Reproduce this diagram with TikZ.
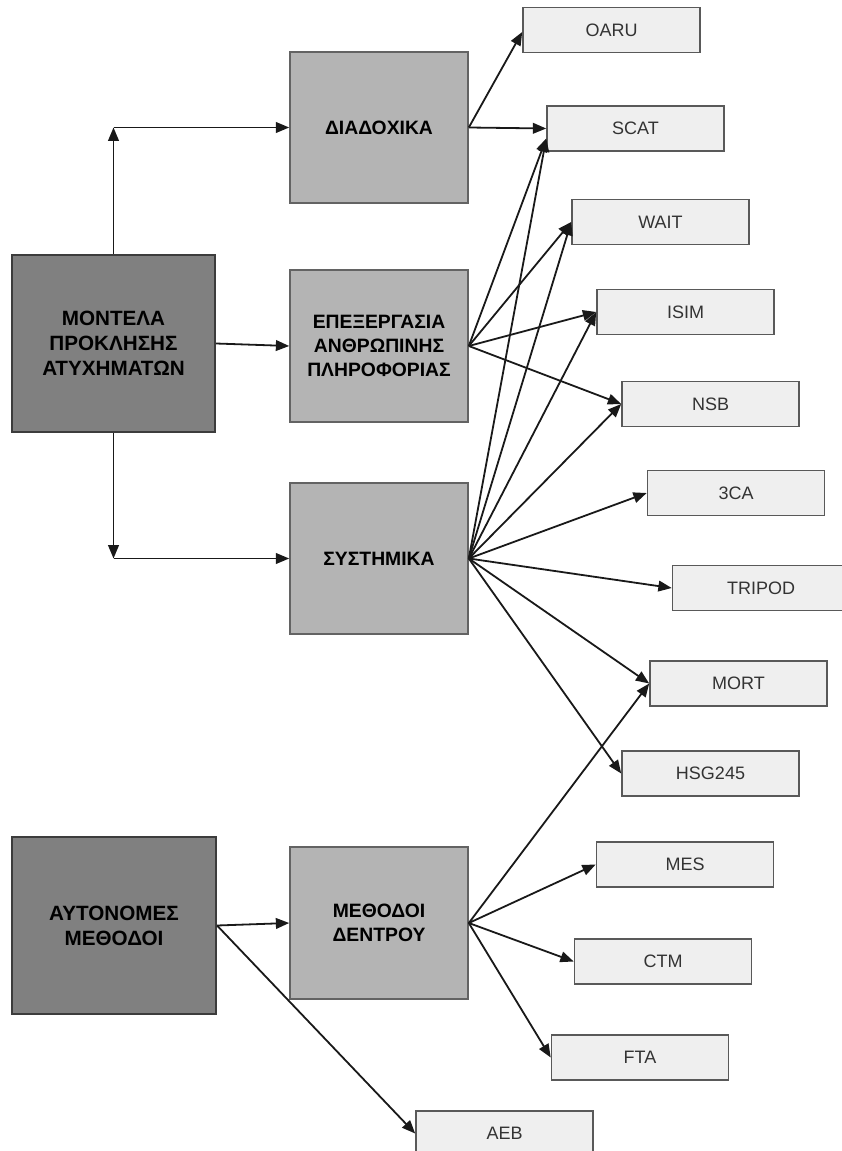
\documentclass[tikz,border=0pt]{standalone}
\usepackage{fontspec}
\setmainfont{Liberation Sans}
\usetikzlibrary{arrows.meta,calc}
\definecolor{darkbox}{HTML}{808080}
\definecolor{midbox}{HTML}{B4B4B4}
\definecolor{lightbox}{HTML}{EFEFEF}
\definecolor{smalltext}{HTML}{333333}
\definecolor{edgegray}{HTML}{3C3C3C}
\tikzset{
  bigbox/.style={draw=edgegray, line width=1.6pt, fill=darkbox, minimum width=203*0.75pt, minimum height=177*0.75pt, align=center, inner sep=0pt,
    font=\bfseries\fontsize{15.5}{18.75}\selectfont},
  midbox/.style={draw=edgegray!80, line width=1.2pt, fill=midbox, minimum width=178*0.75pt, minimum height=151*0.75pt, align=center, inner sep=0pt,
    font=\bfseries\fontsize{14.5}{18}\selectfont},
  smallbox/.style={draw=edgegray!85, line width=1.2pt, fill=lightbox, minimum width=177*0.75pt, minimum height=45*0.75pt, inner sep=0pt,
    text=smalltext, font=\fontsize{13.5}{16}\selectfont},
  conn/.style={line width=1.35pt, draw=black!90, -{Triangle[length=10pt,width=8pt]}},
}
\begin{document}
\begin{tikzpicture}[x=0.75pt,y=-0.75pt]
\useasboundingbox (0,0) rectangle (841,1151);
% big boxes
\node[bigbox] (M1) at (113.5,343.5) {ΜΟΝΤΕΛΑ\\ΠΡΟΚΛΗΣΗΣ\\ΑΤΥΧΗΜΑΤΩΝ};
\node[bigbox, minimum width=204*0.75pt] (M2) at (114,925.5) {ΑΥΤΟΝΟΜΕΣ\\ΜΕΘΟΔΟΙ};
% middle boxes
\node[midbox] (D) at (379,127.5) {ΔΙΑΔΟΧΙΚΑ};
\node[midbox, minimum height=152*0.75pt] (E) at (379,346) {ΕΠΕΞΕΡΓΑΣΙΑ\\ΑΝΘΡΩΠΙΝΗΣ\\ΠΛΗΡΟΦΟΡΙΑΣ};
\node[midbox] (S) at (379,558.5) {ΣΥΣΤΗΜΙΚΑ};
\node[midbox, minimum height=152*0.75pt] (T) at (379,923) {ΜΕΘΟΔΟΙ\\ΔΕΝΤΡΟΥ};
% small boxes
\node[smallbox] (OARU) at (611.5,30) {OARU};
\node[smallbox] (SCAT) at (635.5,128.5) {SCAT};
\node[smallbox] (WAIT) at (660.5,222) {WAIT};
\node[smallbox] (ISIM) at (685.5,312) {ISIM};
\node[smallbox] (NSB) at (710.5,404) {NSB};
\node[smallbox] (CCA) at (736,493) {3CA};
\node[smallbox] (TRIPOD) at (761,588) {TRIPOD};
\node[smallbox] (MORT) at (738.5,683.5) {MORT};
\node[smallbox] (HSG) at (710.5,773.5) {HSG245};
\node[smallbox] (MES) at (685,864.5) {MES};
\node[smallbox] (CTM) at (663,961.5) {CTM};
\node[smallbox] (FTA) at (640,1057.5) {FTA};
\node[smallbox] (AEB) at (504.5,1133.5) {AEB};
% elbow connectors from M1
\coordinate (c1) at (M1.north |- D.west);
\coordinate (c2) at (M1.south |- S.west);
\draw[conn] (M1.north) -- (c1);
\draw[conn] (c1) -- (D.west);
\draw[conn] (M1.south) -- (c2);
\draw[conn] (c2) -- (S.west);
\draw[conn] (M1.east) -- (E.west);
% from D
\draw[conn] (D.east) -- ($(OARU.west)+(0,2)$);
\draw[conn] (D.east) -- (SCAT.west);
% from E
\coordinate (scatlow) at ($(SCAT.west)+(0,10)$);
\draw[conn] (E.east) -- (scatlow);
\draw[conn] (E.east) -- (WAIT.west);
\draw[conn] (E.east) -- (ISIM.west);
\draw[conn] (E.east) -- (NSB.west);
% from S
\draw[conn] (S.east) -- (scatlow);
\draw[conn] (S.east) -- (WAIT.west);
\draw[conn] (S.east) -- (ISIM.west);
\draw[conn] (S.east) -- (NSB.west);
\draw[conn] (S.east) -- (CCA.west);
\draw[conn] (S.east) -- (TRIPOD.west);
\draw[conn] (S.east) -- (MORT.west);
\draw[conn] (S.east) -- (HSG.west);
% from T
\draw[conn] (T.east) -- (MORT.west);
\draw[conn] (T.east) -- (MES.west);
\draw[conn] (T.east) -- (CTM.west);
\draw[conn] (T.east) -- (FTA.west);
% from M2
\draw[conn] (M2.east) -- (T.west);
\draw[conn] (M2.east) -- (AEB.west);
\end{tikzpicture}
\end{document}
